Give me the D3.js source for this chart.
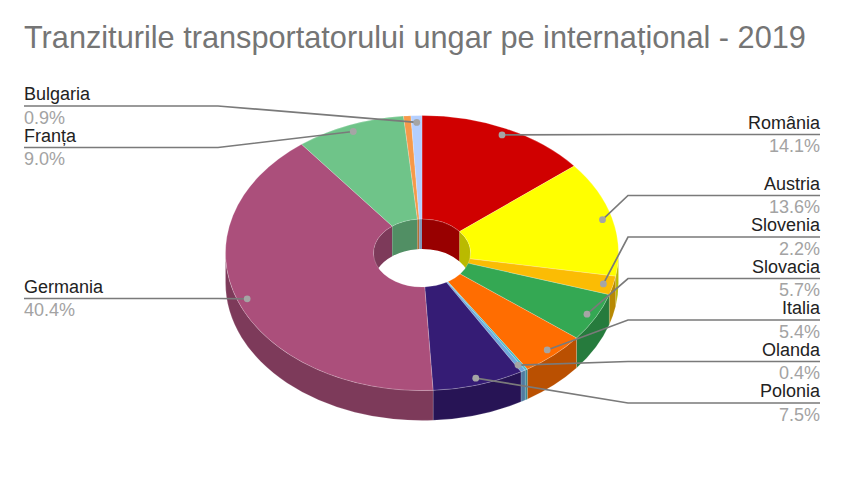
<!DOCTYPE html>
<html>
<head>
<meta charset="utf-8">
<script src="https://cdn.jsdelivr.net/npm/d3@7"></script>
<style>
  html, body { margin: 0; padding: 0; background: #fff; }
  svg { display: block; font-family: "Liberation Sans", Arial, sans-serif; }
</style>
</head>
<body>
<svg id="chart" width="844" height="489"></svg>
<script>
// Data. The two empty names are slices that have no label.
const chartTitle = "Tranziturile transportatorului ungar pe internațional - 2019";
const countries = ["România", "Austria", "Slovenia", "Slovacia", "Italia", "", "Olanda", "Polonia", "Germania", "Franța", "", "Bulgaria"];
const shares = [14.1, 13.6, 2.2, 5.7, 5.4, 0.2, 0.4, 7.5, 40.4, 9.0, 0.6, 0.9];
const sliceColors = ["#d00000", "#ffff00", "#fbbc04", "#34a853", "#ff6d01", "#46bdc6", "#6fa8dc", "#351c75", "#ab4f7b", "#6fc489", "#f6994a", "#b4cfff"];

// Declare the chart dimensions.
const cx = 422, cy = 253;
const outerR = 196.5, innerR = 48.5, squash = 0.7, depth = 30;
const dotR = outerR * 0.95;
const leftX = 24, rightX = 820, leftElbow = 218, rightElbow = 628;
// Height of the rule under each label, in slice order (null = no label).
const ruleY = [134.5, 195.5, 237, 278.5, 320, null, 361.5, 403, 298.5, 147.5, null, 106];

const svg = d3.select("#chart");

svg.append("text")
  .attr("x", leftX)
  .attr("y", 47.5)
  .attr("fill", "#757575")
  .style("font-size", "30.7px")
  .text(chartTitle);

const arcs = d3.pie().sort(null).value(d => d)(shares);

// Point on the tilted circle, angle measured clockwise from the top.
const project = (r, a) => [cx + r * Math.sin(a), cy - r * squash * Math.cos(a)];

// Band between two angles of a circle, dropped down by the chart depth.
const wallPath = (r, a0, a1) => {
  const p0 = project(r, a0), p1 = project(r, a1), ry = r * squash;
  return `M${p0}A${r},${ry} 0 0 1 ${p1}L${p1[0]},${p1[1] + depth}` +
    `A${r},${ry} 0 0 0 ${p0[0]},${p0[1] + depth}Z`;
};

const darker = c => {
  const rgb = d3.rgb(c);
  return d3.rgb(rgb.r * 0.73, rgb.g * 0.73, rgb.b * 0.73).formatHex();
};

// Outer wall, only the front half shows.
arcs.forEach((d, i) => {
  const a0 = Math.max(d.startAngle, Math.PI / 2), a1 = Math.min(d.endAngle, Math.PI * 1.5);
  if (a1 <= a0) return;
  svg.append("path")
    .attr("d", wallPath(outerR, a0, a1))
    .attr("fill", darker(sliceColors[i]))
    .attr("stroke", "#fff").attr("stroke-opacity", 0.25).attr("stroke-width", 0.6);
});

// Inner wall of the hole, only the back half shows.
arcs.forEach((d, i) => {
  [[d.startAngle, Math.min(d.endAngle, Math.PI / 2)],
   [Math.max(d.startAngle, Math.PI * 1.5), d.endAngle]].forEach(([a0, a1]) => {
    if (a1 <= a0) return;
    svg.append("path")
      .attr("d", wallPath(innerR, a0, a1))
      .attr("fill", darker(sliceColors[i]));
  });
});

// Top faces.
const arc = d3.arc().innerRadius(innerR).outerRadius(outerR);
svg.append("g")
  .attr("transform", `translate(${cx},${cy}) scale(1,${squash})`)
  .selectAll("path")
  .data(arcs)
  .join("path")
  .attr("d", arc)
  .attr("fill", (d, i) => sliceColors[i])
  .attr("stroke", "#fff")
  .attr("stroke-opacity", 0.35)
  .attr("stroke-width", 0.6)
  .attr("vector-effect", "non-scaling-stroke");

// Leader lines, dots and labels.
arcs.forEach((d, i) => {
  if (!countries[i]) return;
  const mid = (d.startAngle + d.endAngle) / 2;
  const dot = project(dotR, mid);
  const onRight = mid < Math.PI;
  const y = ruleY[i];
  const edgeX = onRight ? rightX : leftX;
  const elbowX = onRight ? rightElbow : leftElbow;

  svg.append("path")
    .attr("d", d3.line()([[edgeX, y], [elbowX, y], dot]))
    .attr("fill", "none")
    .attr("stroke", "#7a7a7a")
    .attr("stroke-width", 1.7);

  svg.append("circle")
    .attr("cx", dot[0]).attr("cy", dot[1]).attr("r", 3.4)
    .attr("fill", "#a5a5a5");

  const anchor = onRight ? "end" : "start";
  svg.append("text")
    .attr("x", edgeX).attr("y", y - 6)
    .attr("text-anchor", anchor)
    .attr("fill", "#222")
    .style("font-size", "18px")
    .text(countries[i]);
  svg.append("text")
    .attr("x", edgeX).attr("y", y + 17.5)
    .attr("text-anchor", anchor)
    .attr("fill", "#a3a3a3")
    .style("font-size", "18px")
    .text(d3.format(".1f")(shares[i]) + "%");
});
</script>
</body>
</html>
